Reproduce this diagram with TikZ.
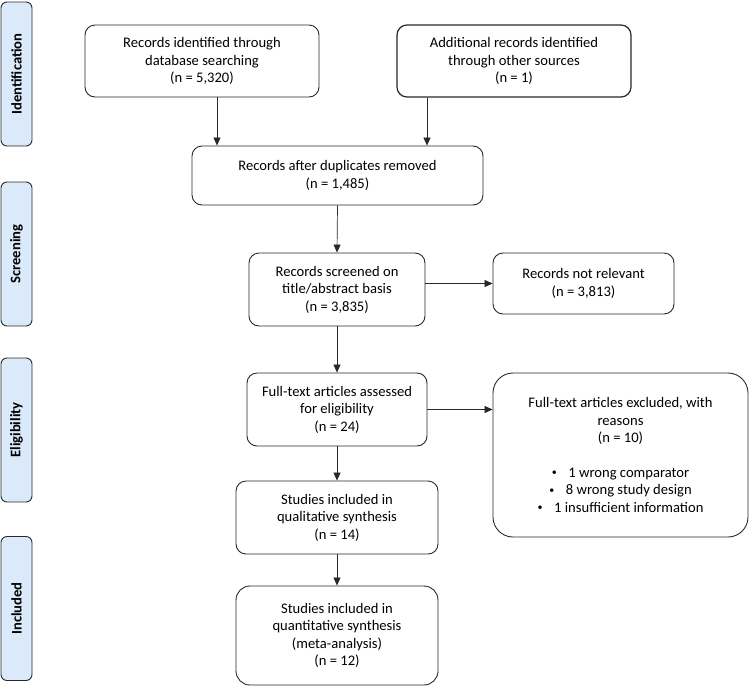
\documentclass[tikz,border=0pt]{standalone}
\usepackage{fontspec}
\setmainfont{Carlito}
\usetikzlibrary{arrows.meta}
\definecolor{sidefill}{RGB}{218,234,250}
\definecolor{edge}{RGB}{40,40,40}
\tikzset{
  box/.style={draw=edge, line width=0.9pt, rounded corners=10pt, align=center, inner sep=0pt, font=\fontsize{14.6}{17.5}\selectfont, text=black},
  side/.style={draw=edge, line width=0.9pt, fill=sidefill, rounded corners=6pt, inner sep=0pt, font=\fontsize{14.6}{16}\selectfont\bfseries, rotate=90},
  arr/.style={draw=edge, line width=0.7pt, -{Triangle[length=8pt,width=7pt]}}
}
\newcommand{\bul}{\raisebox{0.25ex}{\fontsize{10}{10}\selectfont\textbullet}\hspace{0.8em}}
\begin{document}
\begin{tikzpicture}[x=1pt,y=-1pt]
\useasboundingbox (0,0) rectangle (750,686);
% side labels (rotated: width=vertical extent)
\node[side, minimum width=144, minimum height=31] (sid) at (16.5,74) {Identification};
\node[side, minimum width=144, minimum height=31] (ssc) at (16.5,254) {Screening};
\node[side, minimum width=144, minimum height=31] (sel) at (16.5,430) {Eligibility};
\node[side, minimum width=144, minimum height=31] (sin) at (16.5,608.5) {Included};
% boxes
\node[box, minimum width=234, minimum height=72] (b1) at (202,61) {Records identified through\\database searching\\(n = 5,320)};
\node[box, minimum width=234, minimum height=72, line width=1.2pt] (b2) at (514,61) {Additional records identified\\through other sources\\(n = 1)};
\node[box, minimum width=291, minimum height=59] (b3) at (337.5,175.5) {Records after duplicates removed\\(n = 1,485)};
\node[box, minimum width=176, minimum height=73] (b4) at (337,289.5) {Records screened on\\title/abstract basis\\(n = 3,835)};
\node[box, minimum width=181, minimum height=61] (b5) at (583.5,283.5) {Records not relevant\\(n = 3,813)};
\node[box, minimum width=180, minimum height=73] (b6) at (337,409.5) {Full-text articles assessed\\for eligibility\\(n = 24)};
\node[box, minimum width=255, minimum height=164, rounded corners=20pt] (b7) at (620.5,455) {Full-text articles excluded, with\\reasons\\(n = 10)\\[17pt]\bul 1 wrong comparator\\\bul 8 wrong study design\\\bul 1 insufficient information};
\node[box, minimum width=202, minimum height=73] (b8) at (337,517.5) {Studies included in\\qualitative synthesis\\(n = 14)};
\node[box, minimum width=202, minimum height=99, rounded corners=14pt] (b9) at (337,635.5) {Studies included in\\quantitative synthesis\\(meta-analysis)\\(n = 12)};
% connectors
\draw[arr] ([xshift=15pt]b1.south) -- ([xshift=15pt]b1.south |- b3.north);
\draw[arr] ([xshift=-87pt]b2.south) -- ([xshift=-87pt]b2.south |- b3.north);
\draw[arr] (b3.south) -- (b4.north);
\draw[arr] (b4.east |- b5.west) -- (b5.west);
\draw[arr] (b4.south) -- (b6.north);
\draw[arr] (b6.east) -- (b6.east -| b7.west);
\draw[arr] (b6.south) -- (b8.north);
\draw[arr] (b8.south) -- (b9.north);
\end{tikzpicture}
\end{document}
